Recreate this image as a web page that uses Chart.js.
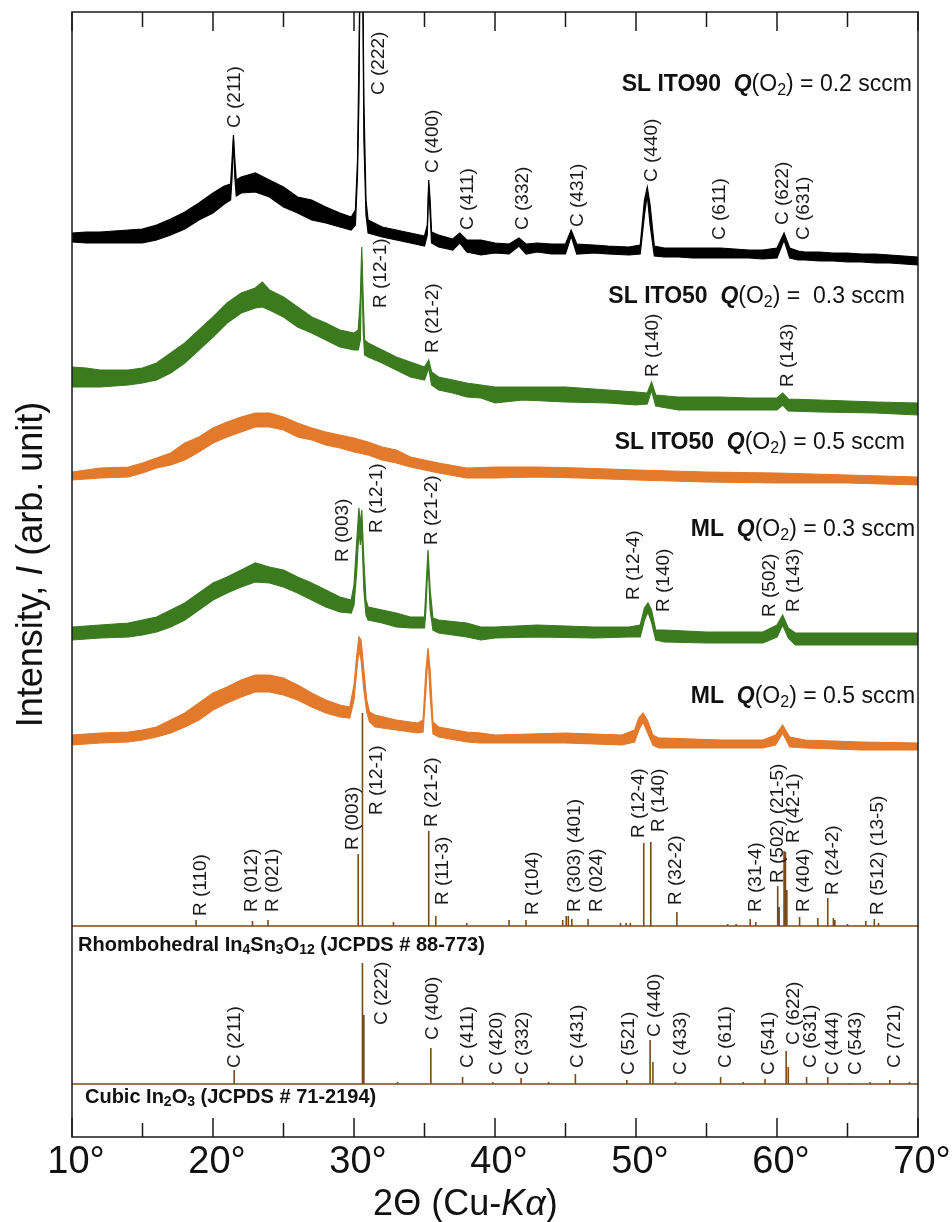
<!DOCTYPE html>
<html><head><meta charset="utf-8">
<script src="https://cdn.jsdelivr.net/npm/chart.js@4.4.1/dist/chart.umd.min.js"></script>
<style>html,body{margin:0;padding:0;background:#fff}#wrap{position:relative;width:952px;height:1222px}</style>
</head><body><div id="wrap"><canvas id="c" width="952" height="1222"></canvas></div>
<script>
// ---------- axis ----------
const xMajorTicks = [10, 20, 30, 40, 50, 60, 70];
const xMinorTicks = [15, 25, 35, 45, 55, 65];
const xTickLabels = ['10°', '20°', '30°', '40°', '50°', '60°', '70°'];

// ---------- SL ITO90, Q(O2) = 0.2 sccm (black) : upper / lower edge of the noise band ----------
const ito90X  = [10,11,12,13,14,15,16,17,18,19,20,20.8,21.25,21.35,21.45,21.55,21.65,22,23,24,25,26,27,28,29,29.8,30.1,30.25,30.35,30.45,30.6,30.7,30.85,31,32,33,34,35,35.2,35.3,35.4,35.5,36,37,37.5,38,39,40,41,41.7,42.2,43,44,45,45.4,45.8,47,48,49.5,50.3,50.6,50.8,51,51.3,52,53,54,55,56,57,58,59,60,60.5,60.9,61.5,62,63,64,65,66,67,68,69,70];
const ito90Hi = [904,905,905,906,907,908,912,918,925,934,944,951,953,977,1002,977,957,960,964,957,950,940,937,930,924,920,927,977,1077,1200,1200,1037,937,917,910,907,904,901,912,957,937,905,902,898,904,897,897,894,893,899,893,894,893,893,907,893,892,891,890,892,937,950,932,891,889,889,889,889,889,888,887,887,889,904,889,886,885,885,884,884,883,883,882,881,880];
const ito90Lo = [895,894,894,894,894,894,897,902,908,917,924,933,937,959,997,959,941,944,945,940,930,924,917,914,910,907,912,962,1037,1200,1200,997,922,904,900,897,894,891,902,952,922,894,890,887,894,885,882,884,883,891,883,885,883,883,901,883,884,883,882,883,922,942,912,881,880,880,879,879,879,879,879,878,879,897,879,877,877,876,876,875,875,874,874,873,872];

// ---------- SL ITO50, Q(O2) = 0.3 sccm (green) ----------
const ito50aX  = [10,11,12,13,14,15,16,17,18,19,20,21,22,23,23.5,24,25,26,27,28,29,30,30.3,30.45,30.55,30.65,30.75,31,32,33,34,35,35.3,35.5,36,37,38,39,40,42,45,48,50,50.8,51.1,51.4,53,56,58,60,60.4,60.8,63,67,70];
const ito50aHi = [770,769,767,767,767,769,774,784,794,807,820,834,844,849,855,847,840,830,820,814,807,804,807,839,890,839,797,794,787,780,775,770,777,765,760,757,754,752,750,750,750,747,745,744,755,742,740,740,739,739,744,738,737,735,734];
const ito50aLo = [750,750,750,751,752,754,757,764,774,787,800,814,824,829,830,827,820,810,804,797,790,787,787,797,877,807,782,780,774,767,760,757,769,752,747,744,740,739,734,737,735,734,732,733,747,731,727,727,727,727,732,726,725,724,722];

// ---------- SL ITO50, Q(O2) = 0.5 sccm (orange) ----------
const ito50bX  = [10,12,14,15,16,17,18,19,20,21,22,23,24,25,26,27,28,29,30,31,32,33,34,35,36,38,40,43,46,50,55,60,65,70];
const ito50bHi = [665,669,670,674,679,684,694,700,709,715,720,724,724,720,714,709,705,702,699,695,690,687,680,677,674,669,670,670,669,667,665,664,662,660];
const ito50bLo = [657,659,660,664,669,672,677,685,694,700,705,710,710,707,700,697,692,689,685,682,677,674,670,667,664,659,659,660,659,657,655,654,654,652];

// ---------- ML, Q(O2) = 0.3 sccm (green) ----------
const mlaX  = [10,12,14,15,16,17,18,19,20,21,22,23,24,25,26,27,28,29,29.8,30,30.2,30.35,30.45,30.55,30.7,30.85,31,32,33,34,35,35.1,35.25,35.4,35.6,36,38,39,40,43,47,49.5,50.3,50.6,50.85,51.1,51.4,52,55,59,60,60.4,60.8,61.3,62,65,70];
const mlaHi = [510,512,514,517,520,527,534,544,554,560,567,574,570,567,560,554,547,540,537,552,597,629,612,627,577,537,530,527,524,520,520,547,587,547,519,517,514,510,510,512,510,510,512,529,534,527,507,507,505,505,512,522,509,504,504,504,504];
const mlaLo = [497,499,500,502,505,510,517,527,537,544,550,555,554,550,544,537,530,525,524,532,567,607,592,607,547,522,517,514,510,509,509,527,577,527,507,504,500,497,499,500,499,500,500,517,525,515,497,495,494,494,500,512,499,492,492,492,492];

// ---------- ML, Q(O2) = 0.5 sccm (orange) ----------
const mlbX  = [10,12,14,15,16,17,18,19,20,21,22,23,24,25,26,27,28,29,29.7,30,30.2,30.35,30.5,30.7,30.9,31.1,31.5,33,34.5,34.9,35.1,35.25,35.4,35.6,36,38,39,40,45,49,49.9,50.2,50.5,50.8,51.2,51.6,52,56,59,59.9,60.4,60.9,62,66,70];
const mlbHi = [402,404,405,407,410,417,424,434,444,450,457,462,462,459,452,444,437,432,430,452,482,500,497,467,437,425,422,417,414,417,467,489,467,415,410,405,404,402,404,402,407,419,424,417,402,399,399,397,397,402,412,400,397,395,394];
const mlbLo = [392,394,395,397,400,404,410,417,427,434,440,445,445,442,437,430,424,420,419,437,467,487,477,447,425,415,410,407,404,405,447,482,442,403,400,395,394,394,394,392,395,407,415,405,392,389,389,389,389,392,404,390,389,387,387];

// ---------- Reference patterns (stick intensities) ----------
const rhomboPos = [18.8,22.8,23.9,30.3,30.6,32.8,35.3,35.8,38.0,41.0,42.2,44.8,45.05,45.2,45.45,46.6,48.9,49.3,49.6,50.55,51.05,52.9,56.5,57.1,58.1,58.5,60.05,60.15,60.5,60.6,60.7,61.6,62.9,63.6,64.0,64.1,65.0,66.3,66.9,67.2];
const rhomboInt = [6,5,6,72,213,4,95,10,3,6,6,6,10,10,7,7,3,3,3,83,84,14,2,2,7,4,40,19,75,74,36,9,8,28,8,6,2,5,7,3];
const cubicPos = [21.5,30.6,30.7,33.1,35.45,37.7,39.85,41.85,43.8,45.7,49.35,51.0,51.2,52.8,56.0,57.6,59.15,60.65,60.8,62.1,63.6,65.2,66.6,68.0,69.4];
const cubicInt = [14,121,69,2,36,7,2,6,2,10,4,44,22,2,7,2,5,33,17,7,7,1,2,4,2];
const rhomboOffset = 211;
const cubicOffset = 53;

// ---------- peak labels: text, 2θ, intensity level of label start ----------
const ito90Labels = ['C (211)','C (222)','C (400)','C (411)','C (332)','C (431)','C (440)','C (611)','C (622)','C (631)'];
const ito90LabX   = [21.49,31.70,35.53,38.01,41.91,45.82,51.06,55.89,60.35,61.84];
const ito90LabY   = [1009,1042,964,907,907,910,955,897,912,897];
const ito50aLabels = ['R (12-1)','R (21-2)','R (140)','R (143)'];
const ito50aLabX   = [31.84,35.53,51.13,60.71];
const ito50aLabY   = [829,784,760,750];
const mlaLabels = ['R (003)','R (12-1)','R (21-2)','R (12-4)','R (140)','R (502)','R (143)'];
const mlaLabX   = [29.15,31.56,35.46,49.79,51.91,59.43,61.13];
const mlaLabY   = [575,604,592,537,525,520,525];
const rhomboLabels = ['R (110)','R (012)','R (021)','R (003)','R (12-1)','R (21-2)','R (11-3)','R (104)','R (303) (401)','R (024)','R (12-4)','R (140)','R (32-2)','R (31-4)','R (502) (21-5)','R (42-1)','R (404)','R (24-2)','R (512) (13-5)'];
const rhomboLabX   = [19.04,22.70,24.18,29.86,31.56,35.46,36.24,42.62,45.60,47.16,50.14,51.56,52.77,58.44,60.00,61.13,61.84,63.90,67.09];
const rhomboLabY   = [221,225,225,287,322,310,232,222,225,225,299,305,232,225,254,294,225,242,222];
const cubicLabels = ['C (211)','C (222)','C (400)','C (411)','C (420)','C (332)','C (431)','C (521)','C (440)','C (433)','C (611)','C (541)','C (622)','C (631)','C (444)','C (543)','C (721)'];
const cubicLabX   = [21.49,31.91,35.53,38.01,40.07,41.91,45.82,49.43,51.28,53.12,56.31,59.36,61.13,62.34,63.90,65.53,68.30];
const cubicLabY   = [69,112,97,69,62,62,69,62,100,62,69,62,92,69,62,62,69];

// ---------- sample names ----------
const sampleNames = [
  {name:'SL ITO90', q:' = 0.2 sccm', x:69.57, y:1052},
  {name:'SL ITO50', q:' =  0.3 sccm', x:69.08, y:840},
  {name:'SL ITO50', q:' = 0.5 sccm', x:69.08, y:694},
  {name:'ML', q:' = 0.3 sccm', x:69.79, y:607},
  {name:'ML', q:' = 0.5 sccm', x:69.79, y:440}
];

const BLACK = '#000000', GREEN = '#3b7a1f', ORANGE = '#e2792b', BROWN = '#7a4a18';
const FONT = '"Liberation Sans", Arial, sans-serif';

function band(x, hi, lo, color) {
  return [
    {data: x.map((v, i) => ({x: v, y: hi[i]})), borderColor: color, backgroundColor: color, borderWidth: 1.2, pointRadius: 0, fill: false, tension: 0},
    {data: x.map((v, i) => ({x: v, y: lo[i]})), borderColor: color, backgroundColor: color, borderWidth: 1.2, pointRadius: 0, fill: '-1', tension: 0}
  ];
}
function sticks(pos, inten, base, color) {
  const d = [{x: 10, y: base}];
  pos.forEach((v, i) => { d.push({x: v, y: base}, {x: v, y: base + inten[i]}, {x: v, y: base}); });
  d.push({x: 70, y: base});
  return {data: d, borderColor: color, borderWidth: 1.6, pointRadius: 0, fill: false, tension: 0};
}

const datasets = [
  ...band(ito90X, ito90Hi, ito90Lo, BLACK),
  ...band(ito50aX, ito50aHi, ito50aLo, GREEN),
  ...band(ito50bX, ito50bHi, ito50bLo, ORANGE),
  ...band(mlaX, mlaHi, mlaLo, GREEN),
  ...band(mlbX, mlbHi, mlbLo, ORANGE),
  sticks(rhomboPos, rhomboInt, rhomboOffset, BROWN),
  sticks(cubicPos, cubicInt, cubicOffset, BROWN)
];

function drawRich(ctx, segs, x, y, align) {
  let w = 0;
  segs.forEach(s => { ctx.font = s.f; s.w = ctx.measureText(s.t).width; w += s.w; });
  let cx = align === 'right' ? x - w : x;
  ctx.textBaseline = 'middle';
  ctx.textAlign = 'left';
  segs.forEach(s => { ctx.font = s.f; ctx.fillText(s.t, cx, y + (s.dy || 0)); cx += s.w; });
}

const deco = {
  id: 'deco',
  afterDraw(chart) {
    const {ctx, chartArea: a, scales: {x, y}} = chart;
    ctx.save();
    // frame
    ctx.strokeStyle = '#1a1a1a';
    ctx.lineWidth = 1.5;
    ctx.strokeRect(a.left, a.top, a.right - a.left, a.bottom - a.top);
    // inward ticks top and bottom
    ctx.beginPath();
    xMajorTicks.forEach(v => { const p = x.getPixelForValue(v); ctx.moveTo(p, a.bottom); ctx.lineTo(p, a.bottom - 19); ctx.moveTo(p, a.top); ctx.lineTo(p, a.top + 19); });
    xMinorTicks.forEach(v => { const p = x.getPixelForValue(v); ctx.moveTo(p, a.bottom); ctx.lineTo(p, a.bottom - 14); ctx.moveTo(p, a.top); ctx.lineTo(p, a.top + 15); });
    ctx.stroke();
    // tick labels
    ctx.fillStyle = '#111';
    ctx.font = '38px ' + FONT;
    ctx.textAlign = 'center';
    ctx.textBaseline = 'alphabetic';
    xMajorTicks.forEach((v, i) => ctx.fillText(xTickLabels[i], x.getPixelForValue(v) + 4, a.bottom + 36));
    // x title
    const xt = [
      {t: '2Θ (Cu-', f: '36px ' + FONT},
      {t: 'Kα', f: 'italic 36px ' + FONT},
      {t: ')', f: '36px ' + FONT}
    ];
    ctx.textBaseline = 'alphabetic';
    let w = 0; xt.forEach(s => { ctx.font = s.f; s.w = ctx.measureText(s.t).width; w += s.w; });
    let cx = x.getPixelForValue(37.9) - w / 2;
    ctx.textAlign = 'left';
    xt.forEach(s => { ctx.font = s.f; ctx.fillText(s.t, cx, a.bottom + 78); cx += s.w; });
    // y title
    ctx.save();
    ctx.translate(42, (a.top + a.bottom) / 2 - 10);
    ctx.rotate(-Math.PI / 2);
    const yt = [
      {t: 'Intensity, ', f: '36px ' + FONT},
      {t: 'I', f: 'italic 36px ' + FONT},
      {t: ' (arb. unit)', f: '36px ' + FONT}
    ];
    w = 0; yt.forEach(s => { ctx.font = s.f; s.w = ctx.measureText(s.t).width; w += s.w; });
    cx = -w / 2;
    yt.forEach(s => { ctx.font = s.f; ctx.fillText(s.t, cx, 0); cx += s.w; });
    ctx.restore();

    // rotated peak labels
    ctx.fillStyle = '#1a1a1a';
    ctx.font = '19px ' + FONT;
    const groups = [
      [ito90Labels, ito90LabX, ito90LabY],
      [ito50aLabels, ito50aLabX, ito50aLabY],
      [mlaLabels, mlaLabX, mlaLabY],
      [rhomboLabels, rhomboLabX, rhomboLabY],
      [cubicLabels, cubicLabX, cubicLabY]
    ];
    groups.forEach(([t, xs, ys]) => {
      t.forEach((s, i) => {
        ctx.save();
        ctx.translate(x.getPixelForValue(xs[i]), y.getPixelForValue(ys[i]));
        ctx.rotate(-Math.PI / 2);
        ctx.textAlign = 'left';
        ctx.textBaseline = 'middle';
        ctx.fillText(s, 0, 1);
        ctx.restore();
      });
    });

    // sample names
    ctx.fillStyle = '#111';
    sampleNames.forEach(s => {
      drawRich(ctx, [
        {t: s.name + '  ', f: 'bold 23px ' + FONT},
        {t: 'Q', f: 'italic bold 23px ' + FONT},
        {t: '(O', f: '23px ' + FONT},
        {t: '2', f: '16px ' + FONT, dy: 6},
        {t: ')' + s.q, f: '23px ' + FONT}
      ], x.getPixelForValue(s.x), y.getPixelForValue(s.y), 'right');
    });

    // reference pattern titles
    const B = 'bold 20px ' + FONT, BS = 'bold 14px ' + FONT;
    drawRich(ctx, [
      {t: 'Rhombohedral In', f: B}, {t: '4', f: BS, dy: 5}, {t: 'Sn', f: B}, {t: '3', f: BS, dy: 5},
      {t: 'O', f: B}, {t: '12', f: BS, dy: 5}, {t: ' (JCPDS # 88-773)', f: B}
    ], x.getPixelForValue(10.43), y.getPixelForValue(192), 'left');
    drawRich(ctx, [
      {t: 'Cubic In', f: B}, {t: '2', f: BS, dy: 5}, {t: 'O', f: B}, {t: '3', f: BS, dy: 5},
      {t: ' (JCPDS # 71-2194)', f: B}
    ], x.getPixelForValue(10.92), y.getPixelForValue(40), 'left');
    ctx.restore();
  }
};

new Chart(document.getElementById('c'), {
  type: 'line',
  data: {datasets},
  options: {
    responsive: false,
    devicePixelRatio: 1,
    animation: false,
    events: [],
    layout: {padding: {left: 72, right: 34, top: 12, bottom: 85}},
    scales: {
      x: {type: 'linear', min: 10, max: 70, display: false},
      y: {type: 'linear', min: 0, max: 1125, display: false}
    },
    plugins: {legend: {display: false}, tooltip: {enabled: false}}
  },
  plugins: [deco]
});
</script>
</body></html>
